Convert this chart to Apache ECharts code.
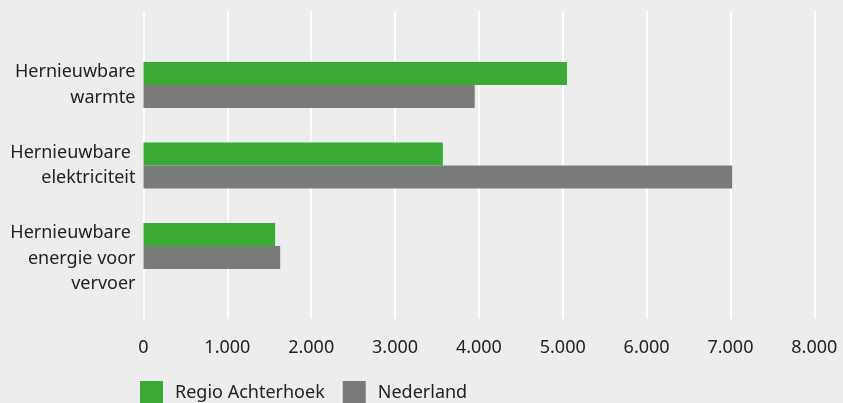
<!DOCTYPE html>
<html><head><meta charset="utf-8">
<script src="https://cdn.jsdelivr.net/npm/echarts@6/dist/echarts.min.js"></script>
<style>html,body{margin:0;padding:0;background:#ededed;}#c{width:843px;height:403px;}</style>
</head><body><div id="c"></div>
<script>
const categories = ['Hernieuwbare\nwarmte', 'Hernieuwbare \nelektriciteit', 'Hernieuwbare \nenergie voor\nvervoer'];
const seriesNames = ['Regio Achterhoek', 'Nederland'];
const regioAchterhoek = [5050, 3570, 1570];
const nederland = [3950, 7020, 1630];
const xTicks = [0, 1000, 2000, 3000, 4000, 5000, 6000, 7000, 8000];

const font = 'Noto Sans';
const fmt = v => String(v).replace(/\B(?=(\d{3})+(?!\d))/g, '.');
const chart = echarts.init(document.getElementById('c'));
chart.setOption({
  backgroundColor: '#ededed',
  textStyle: { fontFamily: font },
  animation: false,
  legend: {
    data: seriesNames, left: 140, top: 381, padding: 0, itemWidth: 23, itemHeight: 23, itemGap: 18,
    icon: 'rect',
    textStyle: { fontSize: 18, color: '#222', fontFamily: font, padding: [0, 0, 0, 7] }
  },
  grid: [
    { left: 143.5, right: 28.7, top: 11, height: 308 },
    { left: 143.5, right: 28.7, top: 44.75, height: 241.5 }
  ],
  xAxis: [
    { gridIndex: 0, type: 'value', min: xTicks[0], max: xTicks[xTicks.length - 1], interval: 1000,
      axisLine: { show: false }, axisTick: { show: false },
      splitLine: { show: true, lineStyle: { color: '#ffffff', width: 2 } },
      axisLabel: { fontSize: 18, color: '#222', margin: 20, fontFamily: font, formatter: fmt } },
    { gridIndex: 1, type: 'value', min: xTicks[0], max: xTicks[xTicks.length - 1], show: false }
  ],
  yAxis: [
    { gridIndex: 0, type: 'category', data: categories, show: false },
    { gridIndex: 1, type: 'category', data: categories, inverse: true,
      axisLine: { show: false }, axisTick: { show: false },
      axisLabel: { fontSize: 18, color: '#222', margin: 8, lineHeight: 25.5, fontFamily: font,
        formatter: (v, i) => i === 2 ? '\n' + v : v } }
  ],
  series: [
    { name: seriesNames[0], type: 'bar', xAxisIndex: 1, yAxisIndex: 1, data: regioAchterhoek,
      barWidth: 23, barGap: '0%', itemStyle: { color: '#3aaa35' } },
    { name: seriesNames[1], type: 'bar', xAxisIndex: 1, yAxisIndex: 1, data: nederland,
      barWidth: 23, barGap: '0%', itemStyle: { color: '#7a7a7a' } }
  ]
});
</script></body></html>
